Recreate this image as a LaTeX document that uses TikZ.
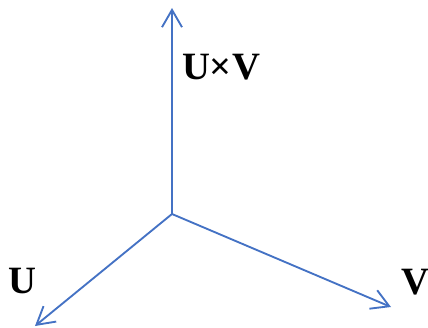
\documentclass[tikz,border=0pt]{standalone}
\usepackage{fontspec}
\setmainfont{Liberation Serif}
\usepackage{tikz}
\usetikzlibrary{arrows.meta, positioning}
\definecolor{vecblue}{RGB}{68,114,196}
\tikzstyle{vec} = [line width=1.4pt, draw=vecblue,
 -{Straight Barb[length=13pt,width=15pt,line width=1.4pt]}]
\tikzstyle{veclabel} = [inner sep=0pt, font=\fontsize{29}{34}\selectfont\bfseries]

\begin{document}
\begin{tikzpicture}[x=0.75pt, y=-0.75pt]
\useasboundingbox (0,0) rectangle (428,328);
\coordinate(origin) at (172,214);
\coordinate(tip_uxv) at (172,8);
\coordinate(tip_u) at (35,326);
\coordinate(tip_v) at (391,307);
\node(label_uxv) [veclabel] at (221,67) {U×V};
\node(label_u) [veclabel] at (22,281) {U};
\node(label_v) [veclabel] at (415,282) {V};
\draw[vec] (origin) -- (tip_uxv);
\draw[vec] (origin) -- (tip_u);
\draw[vec] (origin) -- (tip_v);
\end{tikzpicture}
\end{document}
